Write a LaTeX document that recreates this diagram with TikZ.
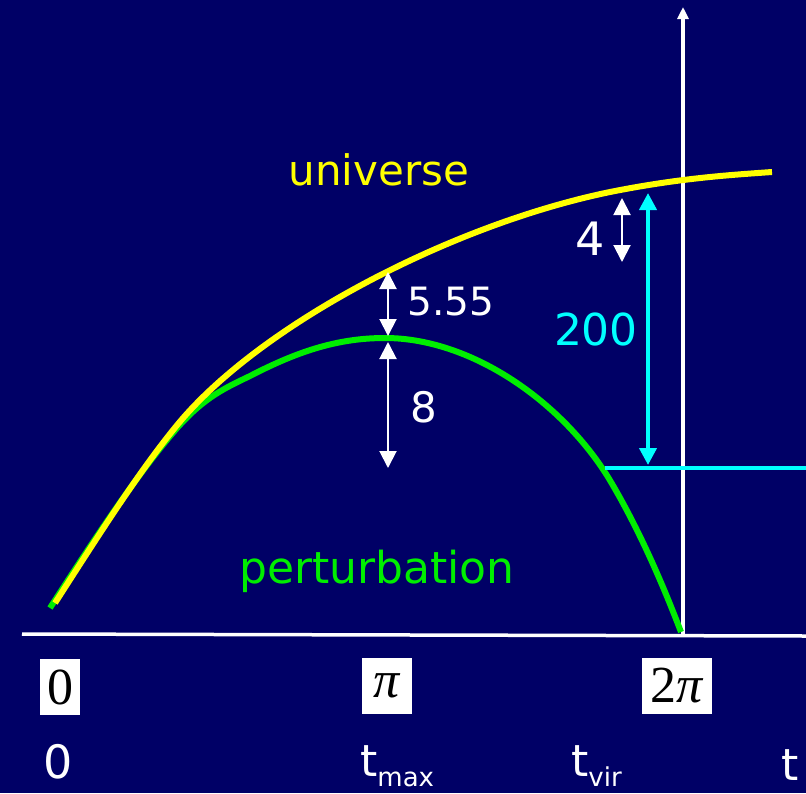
\documentclass[tikz,border=0pt]{standalone}
\usepackage{fontspec}
\setmainfont{DejaVu Sans}
\newfontfamily\boxfont{Liberation Serif}
\usetikzlibrary{arrows.meta, positioning}
\definecolor{navy}{HTML}{000066}
\definecolor{univ}{HTML}{FFFF00}
\definecolor{pert}{HTML}{00EE00}
\definecolor{vir}{HTML}{00FFFF}
\tikzset{
  x=1pt, y=-1pt,
  axis/.style={white, line width=3.5pt},
  curve/.style={line width=6pt, #1},
  gap/.style={white, line width=2pt, {Triangle[width=17pt,length=17pt]}-{Triangle[width=17pt,length=17pt]}},
  lab/.style={font=\fontsize{#1}{#1}\selectfont, inner sep=0pt, anchor=base},
  lab/.default=40,
  phase/.style={fill=white, text=black, inner sep=2pt, minimum height=56pt,
    font=\boxfont\fontsize{52}{54}\selectfont}
}
\newcommand{\tsub}[1]{t{\fontsize{26}{28}\selectfont\raisebox{-10pt}{#1}}}
\begin{document}
\begin{tikzpicture}
  \fill[navy] (0,0) rectangle (806,793);
  \useasboundingbox (0,0) rectangle (806,793);

  % axes
  \coordinate (o) at (22,634);
  \coordinate (xend) at (806,636);
  \coordinate (ybase) at (683,636);
  \coordinate (ytop) at (683,7);
  \draw[axis] (o) -- (xend);
  \draw[axis, -{Triangle[width=11pt,length=12pt]}] (ybase) -- (ytop);

  % the two curves
  \draw[curve=pert] (50,608) .. controls (95,538) and (140,470) .. (178,427)
    .. controls (205,397) and (225,388) .. (250,376)
    .. controls (300,350) and (340,338) .. (385,338)
    .. controls (470,338) and (560,400) .. (608,477)
    .. controls (640,530) and (665,590) .. (681,632);
  \draw[curve=univ] (55,603) .. controls (100,533) and (140,470) .. (178,424)
    .. controls (260,325) and (450,225) .. (610,192)
    .. controls (680,178) and (730,175) .. (772,172);

  % virial level
  \coordinate (vl) at (605,468);
  \coordinate (vr) at (806,468);
  \draw[vir, line width=4.5pt] (vl) -- (vr);

  % gaps
  \coordinate (a1) at (388,272);
  \coordinate (a2) at (388,336);
  \coordinate (b1) at (388,342);
  \coordinate (b2) at (388,468);
  \coordinate (c1) at (622,198);
  \coordinate (c2) at (622,262);
  \coordinate (d1) at (648,193);
  \coordinate (d2) at (648,465);
  \draw[gap] (a1) -- (a2);
  \draw[gap] (b1) -- (b2);
  \draw[gap] (c1) -- (c2);
  \draw[vir, line width=4pt, {Triangle[width=17pt,length=17pt]}-{Triangle[width=17pt,length=17pt]}] (d1) -- (d2);

  % labels
  \node[lab=42, text=univ] (universe) at (379,185) {universe};
  \node[lab=44, text=pert] (perturb) at (377,583) {perturbation};
  \node[lab=39, text=white] (l555) at (451,315) {5.55};
  \node[lab=42, text=white] (l8) at (424,422) {8};
  \node[lab=46, text=white] (l4) at (590,255) {4};
  \node[lab=44, text=vir] (l200) at (596,345) {200};

  % phase boxes
  \node[phase, minimum width=40pt] (p0) at (60,687) {0};
  \node[phase, minimum width=50pt] (p1) at (387,686) {\itshape π};
  \node[phase, minimum width=70pt] (p2) at (677,686) {2\itshape π};

  % times
  \node[lab=46, text=white] (t0) at (58,778) {0};
  \node[lab=44, text=white, anchor=base west] (tmax) at (360,776) {\tsub{max}};
  \node[lab=44, text=white, anchor=base west] (tvir) at (571,776) {\tsub{vir}};
  \node[lab=44, text=white] (t) at (790,780) {t};
\end{tikzpicture}
\end{document}
